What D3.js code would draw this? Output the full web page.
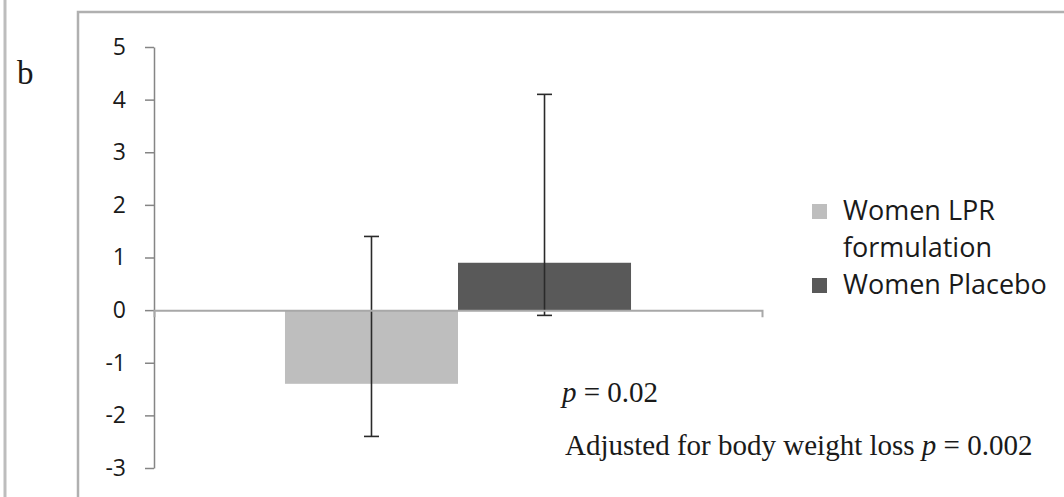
<!DOCTYPE html>
<html><head><meta charset="utf-8">
<script src="https://cdn.jsdelivr.net/npm/d3@7"></script>
<style>body{margin:0;background:#fff}svg{display:block}</style></head>
<body><svg id="c" width="1064" height="497"></svg>
<script>
const categories = ["Women"];
const seriesNames = ["Women LPR formulation", "Women Placebo"];
const legendLines = [["Women LPR", "formulation"], ["Women Placebo"]];
const seriesValues = [-1.4, 0.9];
const errorLow = [-2.4, -0.1];
const errorHigh = [1.4, 4.1];
const yTicks = [5, 4, 3, 2, 1, 0, -1, -2, -3];
const seriesColors = ["#bebebe", "#595959"];
const panelLabel = "b";
const pText1 = "0.02";
const pText2 = "0.002";

const svg = d3.select("#c");

// frames
svg.append("line").attr("x1",5).attr("x2",5).attr("y1",0).attr("y2",497)
  .attr("stroke","#bdbdbd").attr("stroke-width",3);
svg.append("path").attr("d","M78,497V12H1070").attr("fill","none")
  .attr("stroke","#b0b0b0").attr("stroke-width",2.5);

svg.append("text").attr("x",17).attr("y",84).attr("font-family","Liberation Serif")
  .attr("font-size",33).attr("fill","#1a1a1a").text(panelLabel);

const y = d3.scaleLinear().domain([-3,5]).range([468,47]);
const x0 = d3.scaleBand().domain(categories).range([154,762]).padding(0);
const x1 = d3.scaleBand().domain(seriesNames).range([0,x0.bandwidth()])
  .paddingInner(0).paddingOuter(0.757);

// y axis
const ya = svg.append("g").attr("transform","translate(154,0)")
  .call(d3.axisLeft(y).tickValues(yTicks).tickSizeInner(9).tickSizeOuter(0).tickPadding(19).tickFormat(d=>String(d)));
ya.select(".domain").attr("stroke","#858585").attr("stroke-width",1.5);
ya.selectAll(".tick line").attr("stroke","#858585").attr("stroke-width",1.5);
ya.selectAll(".tick text").attr("font-family","Open Sans").attr("font-size",23).attr("fill","#1a1a1a");

// bars
const g = svg.append("g").attr("transform",`translate(${x0(categories[0])},0)`);
g.selectAll("rect.bar").data(seriesValues).join("rect").attr("class","bar")
  .attr("x",(d,i)=>x1(seriesNames[i]))
  .attr("width",x1.bandwidth())
  .attr("y",d=>Math.min(y(d),y(0)))
  .attr("height",d=>Math.abs(y(d)-y(0)))
  .attr("fill",(d,i)=>seriesColors[i]);

// category axis (zero line)
const xa = svg.append("g").attr("transform",`translate(0,${y(0)})`)
  .call(d3.axisBottom(x0).tickSizeInner(0).tickSizeOuter(7).tickFormat(""));
xa.select(".domain").attr("stroke","#a8a8a8").attr("stroke-width",2);
xa.selectAll(".tick line").remove();

// error bars
const capW = 15;
const eb = g.selectAll("g.err").data(seriesValues).join("g").attr("class","err");
eb.append("line")
  .attr("x1",(d,i)=>x1(seriesNames[i])+x1.bandwidth()/2)
  .attr("x2",(d,i)=>x1(seriesNames[i])+x1.bandwidth()/2)
  .attr("y1",(d,i)=>y(errorHigh[i])).attr("y2",(d,i)=>y(errorLow[i]));
eb.append("line")
  .attr("x1",(d,i)=>x1(seriesNames[i])+x1.bandwidth()/2-capW/2)
  .attr("x2",(d,i)=>x1(seriesNames[i])+x1.bandwidth()/2+capW/2)
  .attr("y1",(d,i)=>y(errorHigh[i])).attr("y2",(d,i)=>y(errorHigh[i]));
eb.append("line")
  .attr("x1",(d,i)=>x1(seriesNames[i])+x1.bandwidth()/2-capW/2)
  .attr("x2",(d,i)=>x1(seriesNames[i])+x1.bandwidth()/2+capW/2)
  .attr("y1",(d,i)=>y(errorLow[i])).attr("y2",(d,i)=>y(errorLow[i]));
eb.selectAll("line").attr("stroke","#2a2a2a").attr("stroke-width",1.6);

// legend
const legY = [211, 285];
const lg = svg.append("g");
seriesNames.forEach((s,i)=>{
  lg.append("rect").attr("x",812).attr("y",legY[i]-7).attr("width",15).attr("height",15)
    .attr("fill",seriesColors[i]);
  legendLines[i].forEach((t,j)=>{
    lg.append("text").attr("x",843).attr("y",legY[i]+j*37).attr("dy","0.35em")
      .attr("font-family","Open Sans").attr("font-size",27).attr("fill","#1a1a1a").text(t);
  });
});

// annotations
const a1 = svg.append("text").attr("x",562).attr("y",402).attr("font-family","Liberation Serif")
  .attr("font-size",29).attr("fill","#1a1a1a");
a1.append("tspan").attr("font-style","italic").text("p");
a1.append("tspan").text(" = " + pText1);
const a2 = svg.append("text").attr("x",565).attr("y",455).attr("font-family","Liberation Serif")
  .attr("font-size",29).attr("fill","#1a1a1a");
a2.append("tspan").text("Adjusted for body weight loss ");
a2.append("tspan").attr("font-style","italic").text("p");
a2.append("tspan").text(" = " + pText2);
</script></body></html>
